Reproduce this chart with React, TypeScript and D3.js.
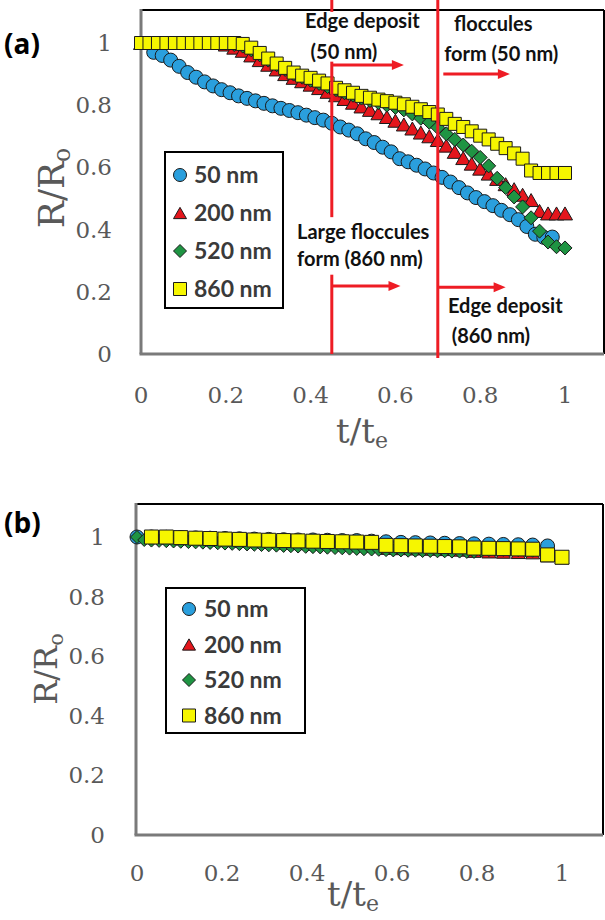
import React from 'react';
import * as d3 from 'd3';

// ---------- panel (a) data ----------
const tA = [0, 0.02, 0.04, 0.06, 0.08, 0.1, 0.12, 0.14, 0.16, 0.18, 0.2, 0.22, 0.24, 0.26, 0.28, 0.3, 0.32, 0.34, 0.36, 0.38, 0.4, 0.42, 0.44, 0.46, 0.48, 0.5, 0.52, 0.54, 0.56, 0.58, 0.6, 0.62, 0.64, 0.66, 0.68, 0.7, 0.72, 0.74, 0.76, 0.78, 0.8, 0.82, 0.84, 0.86, 0.88, 0.9, 0.92, 0.94, 0.96, 0.98, 1.0];
const t50A = [0.03, 0.05, 0.07, 0.09, 0.11, 0.13, 0.15, 0.17, 0.19, 0.21, 0.23, 0.25, 0.27, 0.29, 0.31, 0.33, 0.35, 0.37, 0.39, 0.41, 0.43, 0.45, 0.47, 0.49, 0.51, 0.53, 0.55, 0.57, 0.59, 0.61, 0.63, 0.65, 0.67, 0.69, 0.71, 0.73, 0.75, 0.77, 0.79, 0.81, 0.83, 0.85, 0.87, 0.89, 0.91, 0.93, 0.95, 0.97];
const r50A = [0.97, 0.96, 0.945, 0.925, 0.905, 0.89, 0.875, 0.862, 0.85, 0.84, 0.83, 0.822, 0.814, 0.806, 0.798, 0.79, 0.783, 0.776, 0.768, 0.76, 0.752, 0.742, 0.73, 0.72, 0.708, 0.692, 0.68, 0.665, 0.65, 0.628, 0.618, 0.607, 0.595, 0.582, 0.568, 0.553, 0.535, 0.518, 0.503, 0.49, 0.477, 0.462, 0.448, 0.432, 0.41, 0.385, 0.375, 0.376];
const r200A = [1, 1, 1, 1, 1, 1, 1, 1, 1, 1, 0.995, 0.985, 0.975, 0.96, 0.945, 0.93, 0.915, 0.9, 0.888, 0.877, 0.866, 0.855, 0.843, 0.832, 0.82, 0.808, 0.796, 0.785, 0.774, 0.762, 0.75, 0.738, 0.725, 0.712, 0.7, 0.688, 0.67, 0.65, 0.63, 0.612, 0.596, 0.58, 0.563, 0.546, 0.53, 0.512, 0.495, 0.46, 0.452, 0.452, 0.452];
const r520A = [1, 1, 1, 1, 1, 1, 1, 1, 1, 1, 1, 0.995, 0.99, 0.978, 0.962, 0.945, 0.93, 0.915, 0.9, 0.89, 0.88, 0.87, 0.86, 0.85, 0.84, 0.832, 0.823, 0.815, 0.808, 0.8, 0.793, 0.785, 0.772, 0.758, 0.745, 0.728, 0.708, 0.69, 0.672, 0.652, 0.632, 0.605, 0.565, 0.535, 0.505, 0.473, 0.438, 0.395, 0.36, 0.345, 0.341];
const r860A = [1, 1, 1, 1, 1, 1, 1, 1, 1, 1, 1, 1, 0.997, 0.985, 0.968, 0.95, 0.934, 0.92, 0.905, 0.895, 0.888, 0.879, 0.87, 0.856, 0.848, 0.84, 0.83, 0.824, 0.818, 0.813, 0.808, 0.803, 0.795, 0.787, 0.778, 0.77, 0.756, 0.74, 0.73, 0.716, 0.702, 0.69, 0.676, 0.662, 0.645, 0.628, 0.59, 0.582, 0.582, 0.582, 0.582];

// ---------- panel (b) data ----------
const tB = [0.034, 0.069, 0.103, 0.138, 0.172, 0.207, 0.241, 0.276, 0.31, 0.345, 0.379, 0.414, 0.448, 0.483, 0.517, 0.552, 0.586, 0.621, 0.655, 0.69, 0.724, 0.759, 0.793, 0.828, 0.862, 0.897, 0.931, 0.966, 1.0];
const t50B = [0, 0.034, 0.069, 0.103, 0.138, 0.172, 0.207, 0.241, 0.276, 0.31, 0.345, 0.379, 0.414, 0.448, 0.483, 0.517, 0.552, 0.586, 0.621, 0.655, 0.69, 0.724, 0.759, 0.793, 0.828, 0.862, 0.897, 0.931, 0.966];
const r50B = [1, 1, 0.999, 0.998, 0.997, 0.996, 0.995, 0.994, 0.993, 0.992, 0.991, 0.99, 0.99, 0.989, 0.988, 0.988, 0.986, 0.984, 0.982, 0.981, 0.98, 0.979, 0.978, 0.977, 0.976, 0.975, 0.974, 0.973, 0.97];
const r200B = [1, 0.997, 0.994, 0.992, 0.99, 0.988, 0.986, 0.984, 0.982, 0.98, 0.978, 0.976, 0.975, 0.974, 0.972, 0.97, 0.962, 0.961, 0.96, 0.959, 0.958, 0.956, 0.952, 0.95, 0.949, 0.948, 0.947, 0.937, 0.93];
const t520B = [0, 0.017, 0.034, 0.052, 0.069, 0.086, 0.103, 0.121, 0.138, 0.155, 0.172, 0.19, 0.207, 0.224, 0.241, 0.259, 0.276, 0.293, 0.31, 0.328, 0.345, 0.362, 0.379, 0.397, 0.414, 0.431, 0.448, 0.466, 0.483, 0.5, 0.517, 0.534, 0.552, 0.569, 0.586, 0.603, 0.621, 0.638, 0.655, 0.672, 0.69, 0.707, 0.724, 0.741, 0.759, 0.776, 0.793, 0.81, 0.828, 0.845, 0.862, 0.879, 0.897, 0.914, 0.931];
const r520B = [1, 0.99, 0.988, 0.987, 0.986, 0.985, 0.984, 0.983, 0.982, 0.981, 0.98, 0.979, 0.978, 0.977, 0.976, 0.975, 0.974, 0.973, 0.972, 0.971, 0.97, 0.969, 0.968, 0.967, 0.966, 0.965, 0.964, 0.963, 0.962, 0.961, 0.96, 0.959, 0.958, 0.957, 0.956, 0.955, 0.955, 0.954, 0.954, 0.953, 0.953, 0.952, 0.952, 0.951, 0.951, 0.95, 0.95, 0.955, 0.956, 0.957, 0.957, 0.957, 0.956, 0.955, 0.954];
const r860B = [1, 1, 0.998, 0.996, 0.995, 0.993, 0.992, 0.99, 0.989, 0.988, 0.987, 0.986, 0.985, 0.984, 0.983, 0.982, 0.972, 0.971, 0.97, 0.969, 0.968, 0.967, 0.963, 0.962, 0.961, 0.96, 0.959, 0.94, 0.932];

// ticks and labels
const xTicks = [0, 0.2, 0.4, 0.6, 0.8, 1];
const yTicks = [0, 0.2, 0.4, 0.6, 0.8, 1];
const legendLabels = ['50 nm', '200 nm', '520 nm', '860 nm'];
const shapes = ['circle', 'triangle', 'diamond', 'square'];
const fills = ['#2A9FDD', '#E4161C', '#1F9443', '#F6F600'];

// vertical event lines in panel (a): t position and visible R segments
const eventLines = [
  { t: 0.45, segs: [[1.14, 1.1], [0.94, 0.44], [0.255, 0]] },
  { t: 0.7, segs: [[1.14, -0.013]] },
];
const arrows = [
  { t0: 0.45, t1: 0.62, r: 0.929 },
  { t0: 0.713, t1: 0.87, r: 0.9 },
  { t0: 0.45, t1: 0.612, r: 0.219 },
  { t0: 0.7, t1: 0.86, r: 0.215 },
];
const notes = [
  { text: 'Edge deposit', t: 0.387, r: 1.048 },
  { text: '(50 nm)', t: 0.4, r: 0.949 },
  { text: 'floccules', t: 0.738, r: 1.039 },
  { text: 'form (50 nm)', t: 0.715, r: 0.942 },
  { text: 'Large floccules', t: 0.368, r: 0.37 },
  { text: 'form (860 nm)', t: 0.368, r: 0.283 },
  { text: 'Edge deposit', t: 0.724, r: 0.132 },
  { text: '(860 nm)', t: 0.733, r: 0.035 },
];

function marker(shape: string, s: number) {
  if (shape === 'circle') return d3.symbol(d3.symbolCircle, Math.PI * s * s / 4)()!;
  if (shape === 'square') return d3.symbol(d3.symbolSquare, s * s)()!;
  if (shape === 'triangle') {
    const h = (s * Math.sqrt(3)) / 2;
    return `M0,${-h / 2}L${s / 2},${h / 2}L${-s / 2},${h / 2}Z`;
  }
  const d = s / 2;
  return `M0,${-d}L${d},0L0,${d}L${-d},0Z`;
}

const serif = '"DejaVu Serif", serif';
const sans = 'Lato, "Open Sans", sans-serif';

function Panel({ cfg }: any) {
  const x = d3.scaleLinear().domain([0, 1]).range(cfg.xr);
  const y = d3.scaleLinear().domain([0, 1]).range(cfg.yr);
  const f = cfg.frame;
  return (
    <g>
      <line x1={f.l} x2={f.r} y1={f.t} y2={f.t} stroke="#000" strokeWidth={2} />
      <line x1={f.r} x2={f.r} y1={f.t} y2={f.b} stroke="#000" strokeWidth={2} />
      <line x1={f.l} x2={f.l} y1={f.t - 1} y2={f.b} stroke="#7a7a7a" strokeWidth={3} />
      <line x1={f.l - 1.5} x2={f.r} y1={f.b} y2={f.b} stroke="#7a7a7a" strokeWidth={3} />

      {cfg.series.map((s: any, i: number) => (
        <g key={i} fill={fills[i]} stroke="#1a1a1a" strokeWidth={1}>
          {s.t.map((tv: number, j: number) =>
            s.r[j] === undefined ? null : (
              <path key={j} d={marker(shapes[i], s.size)} transform={`translate(${x(tv)},${y(s.r[j])})`} />
            )
          )}
        </g>
      ))}

      {cfg.annotate && (
        <g>
          {notes.map((n, i) => (
            <text key={i} x={x(n.t)} y={y(n.r)} fontFamily={sans} fontWeight={700} fontSize={20} fill="#111">
              {n.text}
            </text>
          ))}
          {eventLines.map((l, i) =>
            l.segs.map((sg, j) => (
              <line key={`${i}-${j}`} x1={x(l.t)} x2={x(l.t)} y1={y(sg[0])} y2={y(sg[1])} stroke="#EE1C24" strokeWidth={3} />
            ))
          )}
          {arrows.map((a, i) => {
            const x0 = x(a.t0), x1 = x(a.t1), yy = y(a.r);
            return (
              <g key={i} fill="#EE1C24" stroke="#EE1C24">
                <line x1={x0} x2={x1 - 8} y1={yy} y2={yy} strokeWidth={3} />
                <path d={`M${x1},${yy}L${x1 - 12},${yy - 5}L${x1 - 12},${yy + 5}Z`} stroke="none" />
              </g>
            );
          })}
        </g>
      )}

      {/* legend */}
      <rect x={cfg.legend.x} y={cfg.legend.y} width={cfg.legend.w} height={cfg.legend.h} fill="#fff" stroke="#000" strokeWidth={2} />
      {legendLabels.map((lab, i) => {
        const cy = cfg.legend.y0 + i * cfg.legend.dy;
        return (
          <g key={i}>
            <path d={marker(shapes[i], 13)} transform={`translate(${cfg.legend.mx},${cy})`} fill={fills[i]} stroke="#1a1a1a" strokeWidth={1} />
            <text x={cfg.legend.tx} y={cy + 8} fontFamily={sans} fontWeight={700} fontSize={23} fill="#3a3a3a">
              {lab}
            </text>
          </g>
        );
      })}

      {/* tick labels */}
      {yTicks.map((v) => (
        <text key={`y${v}`} x={cfg.yLabelX} y={y(v) + 8} textAnchor="end" fontFamily={serif} fontSize={23} fill="#595959">
          {String(v)}
        </text>
      ))}
      {xTicks.map((v) => (
        <text key={`x${v}`} x={x(v)} y={cfg.xLabelY} textAnchor="middle" fontFamily={serif} fontSize={23} fill="#595959">
          {String(v)}
        </text>
      ))}

      {/* axis titles */}
      <text transform={`translate(${cfg.yTitle[0]},${cfg.yTitle[1]}) rotate(-90)`} textAnchor="middle" fontFamily={serif} fontSize={cfg.yTitleSize} fill="#595959">
        R/R<tspan fontSize={cfg.yTitleSize * 0.65} dy={6}>o</tspan>
      </text>
      <text x={cfg.xTitle[0]} y={cfg.xTitle[1]} textAnchor="middle" fontFamily={serif} fontSize={34} fill="#595959">
        t/t<tspan fontSize={22} dy={5}>e</tspan>
      </text>

      <text x={4} y={cfg.labelY} fontFamily='"Open Sans", sans-serif' fontWeight={700} fontSize={28} fill="#000">
        {cfg.label}
      </text>
    </g>
  );
}

const panelA = {
  label: '(a)',
  labelY: 54,
  xr: [141, 565],
  yr: [354, 43],
  frame: { l: 141, t: 10, r: 604, b: 354 },
  yLabelX: 112,
  xLabelY: 403,
  yTitle: [64, 188],
  yTitleSize: 36,
  xTitle: [362, 443],
  annotate: true,
  legend: { x: 165, y: 152, w: 118, h: 156, y0: 175, dy: 38, mx: 180, tx: 194 },
  series: [
    { t: t50A, r: r50A, size: 14 },
    { t: tA, r: r200A, size: 15 },
    { t: tA, r: r520A, size: 14 },
    { t: tA, r: r860A, size: 13 },
  ],
};

const panelB = {
  label: '(b)',
  labelY: 533,
  xr: [137, 562],
  yr: [835, 537],
  frame: { l: 136, t: 504, r: 603, b: 835 },
  yLabelX: 105,
  xLabelY: 881,
  yTitle: [57, 669],
  yTitleSize: 32,
  xTitle: [353, 906],
  annotate: false,
  legend: { x: 166, y: 588, w: 139, h: 145, y0: 609, dy: 35.5, mx: 189, tx: 204 },
  series: [
    { t: t50B, r: r50B, size: 14 },
    { t: tB, r: r200B, size: 14 },
    { t: t520B, r: r520B, size: 13 },
    { t: tB, r: r860B, size: 14 },
  ],
};

export default function App() {
  return (
    <svg width={605} height={920} style={{ position: 'absolute', left: 0, top: 0, background: '#fff' }}>
      <rect width={605} height={920} fill="#fff" />
      <Panel cfg={panelA} />
      <Panel cfg={panelB} />
    </svg>
  );
}
